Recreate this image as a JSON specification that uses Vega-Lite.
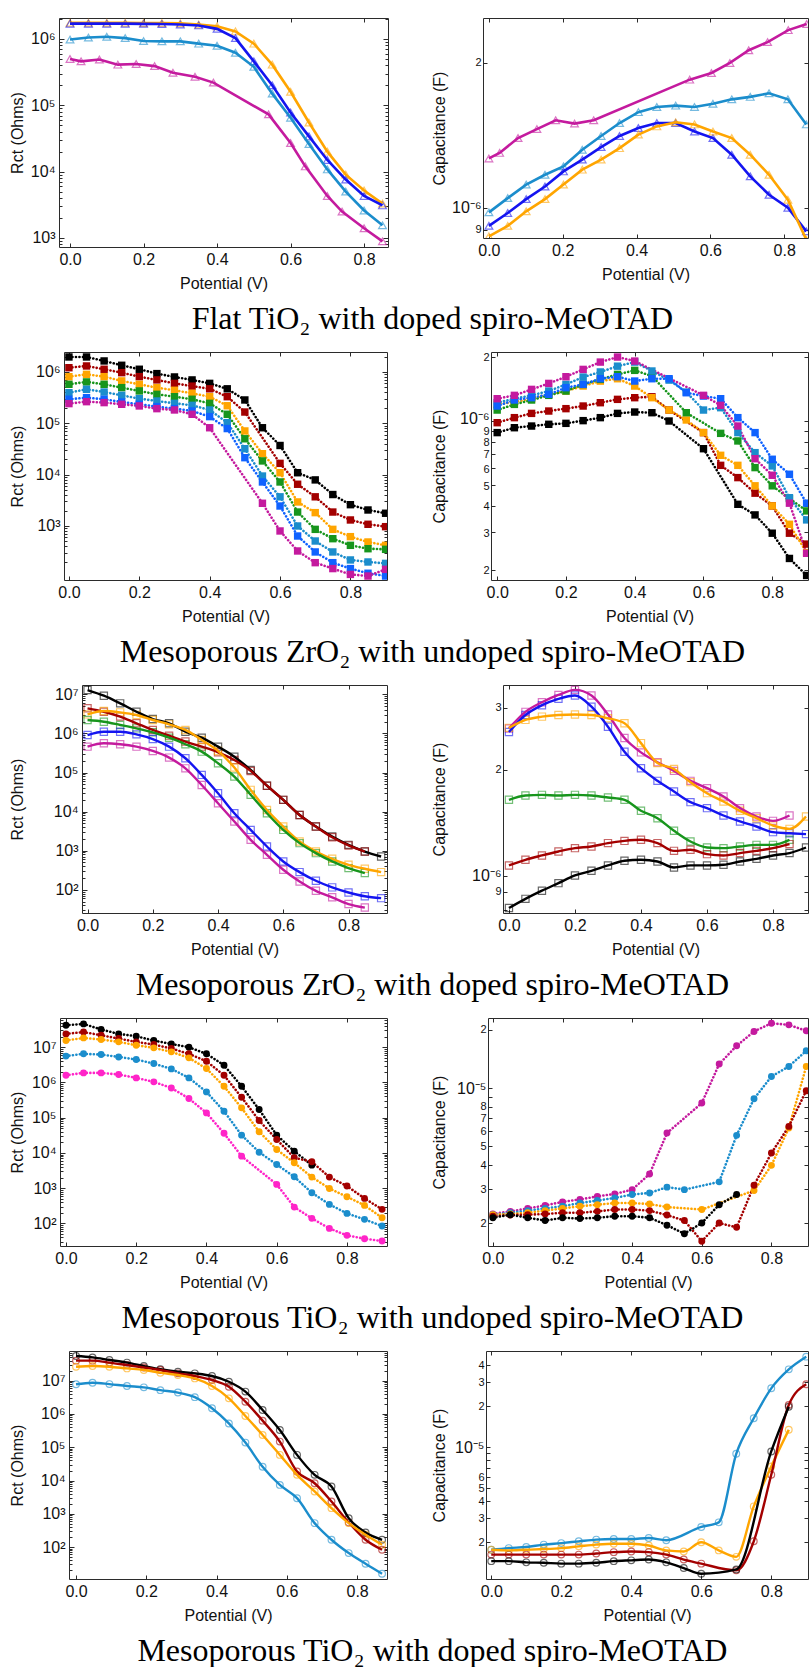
{
"$schema": "https://vega.github.io/schema/vega-lite/v6.json",
"padding": {"left": 1, "top": 15, "right": 0, "bottom": 0},
"config": {
  "view": {"stroke": "#2b2b2b", "strokeWidth": 1},
  "axis": {"labelFont": "Liberation Sans", "titleFont": "Liberation Sans", "labelFontSize": 16, "titleFontSize": 16, "titleFontWeight": "normal", "labelColor": "#111111", "titleColor": "#111111", "tickColor": "#2b2b2b", "tickWidth": 1, "grid": false, "domain": false, "labelOverlap": false, "labelFlush": false, "labelBound": false},
  "title": {"font": "Liberation Serif", "fontSize": 32, "fontWeight": "normal", "color": "#000000"}
},
"datasets": {
"pad": [{"k": 0}],
"r1L": [
{"v":0,"y":1.75e6,"s":"s3"},{"v":0.05,"y":1.75e6,"s":"s3"},{"v":0.1,"y":1.75e6,"s":"s3"},{"v":0.15,"y":1.75e6,"s":"s3"},{"v":0.2,"y":1.74e6,"s":"s3"},{"v":0.25,"y":1.74e6,"s":"s3"},{"v":0.3,"y":1.72e6,"s":"s3"},{"v":0.35,"y":1.65e6,"s":"s3"},{"v":0.4,"y":1.55e6,"s":"s3"},{"v":0.45,"y":1.3e6,"s":"s3"},{"v":0.5,"y":8.5e5,"s":"s3"},{"v":0.55,"y":4.1e5,"s":"s3"},{"v":0.6,"y":1.6e5,"s":"s3"},{"v":0.65,"y":5.5e4,"s":"s3"},{"v":0.7,"y":2.0e4,"s":"s3"},{"v":0.75,"y":9.0e3,"s":"s3"},{"v":0.8,"y":5.2e3,"s":"s3"},{"v":0.85,"y":3.3e3,"s":"s3"},
{"v":0,"y":1.7e6,"s":"s6"},{"v":0.05,"y":1.7e6,"s":"s6"},{"v":0.1,"y":1.7e6,"s":"s6"},{"v":0.15,"y":1.7e6,"s":"s6"},{"v":0.2,"y":1.69e6,"s":"s6"},{"v":0.25,"y":1.68e6,"s":"s6"},{"v":0.3,"y":1.65e6,"s":"s6"},{"v":0.35,"y":1.6e6,"s":"s6"},{"v":0.4,"y":1.42e6,"s":"s6"},{"v":0.45,"y":1.03e6,"s":"s6"},{"v":0.5,"y":4.6e5,"s":"s6"},{"v":0.55,"y":2.0e5,"s":"s6"},{"v":0.6,"y":7.8e4,"s":"s6"},{"v":0.65,"y":3.4e4,"s":"s6"},{"v":0.7,"y":1.5e4,"s":"s6"},{"v":0.75,"y":7.6e3,"s":"s6"},{"v":0.8,"y":4.3e3,"s":"s6"},{"v":0.85,"y":3.1e3,"s":"s6"},
{"v":0,"y":9.8e5,"s":"s5"},{"v":0.05,"y":1.05e6,"s":"s5"},{"v":0.1,"y":1.08e6,"s":"s5"},{"v":0.15,"y":1.03e6,"s":"s5"},{"v":0.2,"y":9.3e5,"s":"s5"},{"v":0.25,"y":9.2e5,"s":"s5"},{"v":0.3,"y":9.2e5,"s":"s5"},{"v":0.35,"y":8.5e5,"s":"s5"},{"v":0.4,"y":7.9e5,"s":"s5"},{"v":0.45,"y":6.2e5,"s":"s5"},{"v":0.5,"y":3.8e5,"s":"s5"},{"v":0.55,"y":1.5e5,"s":"s5"},{"v":0.6,"y":6.5e4,"s":"s5"},{"v":0.65,"y":2.6e4,"s":"s5"},{"v":0.7,"y":1.08e4,"s":"s5"},{"v":0.75,"y":5.0e3,"s":"s5"},{"v":0.8,"y":2.6e3,"s":"s5"},{"v":0.85,"y":1.55e3,"s":"s5"},
{"v":0,"y":5.0e5,"s":"s7"},{"v":0.03,"y":4.6e5,"s":"s7"},{"v":0.08,"y":4.9e5,"s":"s7"},{"v":0.13,"y":4.1e5,"s":"s7"},{"v":0.18,"y":4.2e5,"s":"s7"},{"v":0.23,"y":3.9e5,"s":"s7"},{"v":0.28,"y":3.1e5,"s":"s7"},{"v":0.34,"y":2.7e5,"s":"s7"},{"v":0.39,"y":2.2e5,"s":"s7"},{"v":0.54,"y":7.3e4,"s":"s7"},{"v":0.6,"y":2.7e4,"s":"s7"},{"v":0.64,"y":1.2e4,"s":"s7"},{"v":0.7,"y":4.3e3,"s":"s7"},{"v":0.74,"y":2.5e3,"s":"s7"},{"v":0.8,"y":1.4e3,"s":"s7"},{"v":0.85,"y":890,"s":"s7"}
],
"r1R": [
{"v":0,"y":9.78e-7,"s":"s5"},{"v":0.051,"y":1.047e-6,"s":"s5"},{"v":0.101,"y":1.117e-6,"s":"s5"},{"v":0.152,"y":1.171e-6,"s":"s5"},{"v":0.202,"y":1.219e-6,"s":"s5"},{"v":0.253,"y":1.32e-6,"s":"s5"},{"v":0.304,"y":1.41e-6,"s":"s5"},{"v":0.354,"y":1.5e-6,"s":"s5"},{"v":0.405,"y":1.58e-6,"s":"s5"},{"v":0.455,"y":1.62e-6,"s":"s5"},{"v":0.506,"y":1.63e-6,"s":"s5"},{"v":0.557,"y":1.62e-6,"s":"s5"},{"v":0.607,"y":1.645e-6,"s":"s5"},{"v":0.658,"y":1.68e-6,"s":"s5"},{"v":0.708,"y":1.7e-6,"s":"s5"},{"v":0.759,"y":1.73e-6,"s":"s5"},{"v":0.81,"y":1.68e-6,"s":"s5"},{"v":0.86,"y":1.49e-6,"s":"s5"},
{"v":0,"y":9.17e-7,"s":"s6"},{"v":0.051,"y":9.75e-7,"s":"s6"},{"v":0.101,"y":1.042e-6,"s":"s6"},{"v":0.152,"y":1.107e-6,"s":"s6"},{"v":0.202,"y":1.19e-6,"s":"s6"},{"v":0.253,"y":1.259e-6,"s":"s6"},{"v":0.304,"y":1.337e-6,"s":"s6"},{"v":0.354,"y":1.41e-6,"s":"s6"},{"v":0.405,"y":1.465e-6,"s":"s6"},{"v":0.455,"y":1.5e-6,"s":"s6"},{"v":0.506,"y":1.5e-6,"s":"s6"},{"v":0.557,"y":1.44e-6,"s":"s6"},{"v":0.607,"y":1.396e-6,"s":"s6"},{"v":0.658,"y":1.289e-6,"s":"s6"},{"v":0.708,"y":1.162e-6,"s":"s6"},{"v":0.759,"y":1.064e-6,"s":"s6"},{"v":0.81,"y":1.0e-6,"s":"s6"},{"v":0.86,"y":8.93e-7,"s":"s6"},
{"v":0,"y":8.72e-7,"s":"s3"},{"v":0.051,"y":9.17e-7,"s":"s3"},{"v":0.101,"y":9.83e-7,"s":"s3"},{"v":0.152,"y":1.042e-6,"s":"s3"},{"v":0.202,"y":1.117e-6,"s":"s3"},{"v":0.253,"y":1.2e-6,"s":"s3"},{"v":0.304,"y":1.259e-6,"s":"s3"},{"v":0.354,"y":1.33e-6,"s":"s3"},{"v":0.405,"y":1.419e-6,"s":"s3"},{"v":0.455,"y":1.476e-6,"s":"s3"},{"v":0.506,"y":1.505e-6,"s":"s3"},{"v":0.557,"y":1.49e-6,"s":"s3"},{"v":0.607,"y":1.44e-6,"s":"s3"},{"v":0.658,"y":1.396e-6,"s":"s3"},{"v":0.708,"y":1.289e-6,"s":"s3"},{"v":0.759,"y":1.171e-6,"s":"s3"},{"v":0.81,"y":1.039e-6,"s":"s3"},{"v":0.86,"y":8.58e-7,"s":"s3"},
{"v":0,"y":1.266e-6,"s":"s7"},{"v":0.029,"y":1.3e-6,"s":"s7"},{"v":0.079,"y":1.396e-6,"s":"s7"},{"v":0.13,"y":1.457e-6,"s":"s7"},{"v":0.181,"y":1.52e-6,"s":"s7"},{"v":0.232,"y":1.496e-6,"s":"s7"},{"v":0.284,"y":1.52e-6,"s":"s7"},{"v":0.544,"y":1.846e-6,"s":"s7"},{"v":0.603,"y":1.906e-6,"s":"s7"},{"v":0.653,"y":2.0e-6,"s":"s7"},{"v":0.704,"y":2.125e-6,"s":"s7"},{"v":0.755,"y":2.21e-6,"s":"s7"},{"v":0.811,"y":2.34e-6,"s":"s7"},{"v":0.861,"y":2.41e-6,"s":"s7"}
],
"r2L": [
{"v":0,"y":1.96e6,"s":"s1"},{"v":0.05,"y":1.96e6,"s":"s1"},{"v":0.1,"y":1.64e6,"s":"s1"},{"v":0.15,"y":1.35e6,"s":"s1"},{"v":0.2,"y":1.13e6,"s":"s1"},{"v":0.25,"y":9.3e5,"s":"s1"},{"v":0.3,"y":8.0e5,"s":"s1"},{"v":0.35,"y":7.0e5,"s":"s1"},{"v":0.4,"y":6.0e5,"s":"s1"},{"v":0.45,"y":4.7e5,"s":"s1"},{"v":0.5,"y":2.85e5,"s":"s1"},{"v":0.55,"y":8.2e4,"s":"s1"},{"v":0.6,"y":3.7e4,"s":"s1"},{"v":0.65,"y":1.09e4,"s":"s1"},{"v":0.7,"y":7.9e3,"s":"s1"},{"v":0.75,"y":4.1e3,"s":"s1"},{"v":0.8,"y":2.6e3,"s":"s1"},{"v":0.85,"y":2.05e3,"s":"s1"},{"v":0.9,"y":1.77e3,"s":"s1"},
{"v":0,"y":1.21e6,"s":"s2"},{"v":0.05,"y":1.31e6,"s":"s2"},{"v":0.1,"y":1.13e6,"s":"s2"},{"v":0.15,"y":9.7e5,"s":"s2"},{"v":0.2,"y":8.1e5,"s":"s2"},{"v":0.25,"y":7.0e5,"s":"s2"},{"v":0.3,"y":6.0e5,"s":"s2"},{"v":0.35,"y":5.3e5,"s":"s2"},{"v":0.4,"y":4.7e5,"s":"s2"},{"v":0.45,"y":3.3e5,"s":"s2"},{"v":0.5,"y":1.66e5,"s":"s2"},{"v":0.6,"y":1.66e4,"s":"s2"},{"v":0.65,"y":6.5e3,"s":"s2"},{"v":0.7,"y":3.7e3,"s":"s2"},{"v":0.75,"y":1.87e3,"s":"s2"},{"v":0.8,"y":1.31e3,"s":"s2"},{"v":0.85,"y":1.08e3,"s":"s2"},{"v":0.9,"y":970,"s":"s2"},
{"v":0,"y":8.1e5,"s":"s3"},{"v":0.05,"y":9.0e5,"s":"s3"},{"v":0.1,"y":8.1e5,"s":"s3"},{"v":0.15,"y":6.7e5,"s":"s3"},{"v":0.2,"y":5.75e5,"s":"s3"},{"v":0.25,"y":4.95e5,"s":"s3"},{"v":0.3,"y":4.4e5,"s":"s3"},{"v":0.35,"y":3.84e5,"s":"s3"},{"v":0.4,"y":3.3e5,"s":"s3"},{"v":0.45,"y":2.2e5,"s":"s3"},{"v":0.5,"y":7.1e4,"s":"s3"},{"v":0.55,"y":2.56e4,"s":"s3"},{"v":0.6,"y":1.09e4,"s":"s3"},{"v":0.65,"y":2.94e3,"s":"s3"},{"v":0.7,"y":1.82e3,"s":"s3"},{"v":0.75,"y":860,"s":"s3"},{"v":0.8,"y":620,"s":"s3"},{"v":0.85,"y":488,"s":"s3"},{"v":0.9,"y":420,"s":"s3"},
{"v":0,"y":5.75e5,"s":"s4"},{"v":0.05,"y":6.4e5,"s":"s4"},{"v":0.1,"y":5.75e5,"s":"s4"},{"v":0.15,"y":4.95e5,"s":"s4"},{"v":0.2,"y":4.27e5,"s":"s4"},{"v":0.25,"y":3.67e5,"s":"s4"},{"v":0.3,"y":3.3e5,"s":"s4"},{"v":0.35,"y":2.94e5,"s":"s4"},{"v":0.4,"y":2.45e5,"s":"s4"},{"v":0.45,"y":1.5e5,"s":"s4"},{"v":0.5,"y":5.0e4,"s":"s4"},{"v":0.55,"y":1.85e4,"s":"s4"},{"v":0.6,"y":7.2e3,"s":"s4"},{"v":0.65,"y":1.87e3,"s":"s4"},{"v":0.7,"y":860,"s":"s4"},{"v":0.75,"y":566,"s":"s4"},{"v":0.8,"y":420,"s":"s4"},{"v":0.85,"y":361,"s":"s4"},{"v":0.9,"y":351,"s":"s4"},
{"v":0,"y":3.95e5,"s":"s5"},{"v":0.05,"y":4.6e5,"s":"s5"},{"v":0.1,"y":4.07e5,"s":"s5"},{"v":0.15,"y":3.51e5,"s":"s5"},{"v":0.2,"y":3.02e5,"s":"s5"},{"v":0.25,"y":2.72e5,"s":"s5"},{"v":0.3,"y":2.45e5,"s":"s5"},{"v":0.35,"y":2.24e5,"s":"s5"},{"v":0.4,"y":1.82e5,"s":"s5"},{"v":0.45,"y":1.03e5,"s":"s5"},{"v":0.5,"y":3.2e4,"s":"s5"},{"v":0.55,"y":9.4e3,"s":"s5"},{"v":0.6,"y":3.7e3,"s":"s5"},{"v":0.65,"y":1.0e3,"s":"s5"},{"v":0.7,"y":510,"s":"s5"},{"v":0.75,"y":312,"s":"s5"},{"v":0.8,"y":218,"s":"s5"},{"v":0.85,"y":199,"s":"s5"},{"v":0.9,"y":187,"s":"s5"},
{"v":0,"y":2.94e5,"s":"s8"},{"v":0.05,"y":3.16e5,"s":"s8"},{"v":0.1,"y":2.94e5,"s":"s8"},{"v":0.15,"y":2.6e5,"s":"s8"},{"v":0.2,"y":2.35e5,"s":"s8"},{"v":0.25,"y":2.11e5,"s":"s8"},{"v":0.3,"y":1.93e5,"s":"s8"},{"v":0.35,"y":1.74e5,"s":"s8"},{"v":0.4,"y":1.35e5,"s":"s8"},{"v":0.45,"y":7.9e4,"s":"s8"},{"v":0.5,"y":2.14e4,"s":"s8"},{"v":0.55,"y":7.2e3,"s":"s8"},{"v":0.6,"y":2.45e3,"s":"s8"},{"v":0.65,"y":638,"s":"s8"},{"v":0.7,"y":312,"s":"s8"},{"v":0.75,"y":193,"s":"s8"},{"v":0.8,"y":148,"s":"s8"},{"v":0.85,"y":120,"s":"s8"},{"v":0.9,"y":106,"s":"s8"},
{"v":0,"y":2.42e5,"s":"s7"},{"v":0.05,"y":2.64e5,"s":"s7"},{"v":0.1,"y":2.53e5,"s":"s7"},{"v":0.15,"y":2.35e5,"s":"s7"},{"v":0.2,"y":2.18e5,"s":"s7"},{"v":0.25,"y":1.93e5,"s":"s7"},{"v":0.3,"y":1.82e5,"s":"s7"},{"v":0.35,"y":1.5e5,"s":"s7"},{"v":0.4,"y":8.2e4,"s":"s7"},{"v":0.55,"y":2.77e3,"s":"s7"},{"v":0.6,"y":800,"s":"s7"},{"v":0.65,"y":326,"s":"s7"},{"v":0.7,"y":193,"s":"s7"},{"v":0.75,"y":148,"s":"s7"},{"v":0.8,"y":114,"s":"s7"},{"v":0.85,"y":106,"s":"s7"},{"v":0.9,"y":143,"s":"s7"}
],
"r2R": [
{"v":0,"y":8.82e-7,"s":"s1"},{"v":0.05,"y":9.3e-7,"s":"s1"},{"v":0.1,"y":9.47e-7,"s":"s1"},{"v":0.15,"y":9.65e-7,"s":"s1"},{"v":0.2,"y":9.75e-7,"s":"s1"},{"v":0.25,"y":1.004e-6,"s":"s1"},{"v":0.3,"y":1.037e-6,"s":"s1"},{"v":0.35,"y":1.086e-6,"s":"s1"},{"v":0.4,"y":1.102e-6,"s":"s1"},{"v":0.45,"y":1.094e-6,"s":"s1"},{"v":0.5,"y":1.0e-6,"s":"s1"},{"v":0.6,"y":7.41e-7,"s":"s1"},{"v":0.7,"y":4.06e-7,"s":"s1"},{"v":0.75,"y":3.62e-7,"s":"s1"},{"v":0.8,"y":2.97e-7,"s":"s1"},{"v":0.85,"y":2.26e-7,"s":"s1"},{"v":0.9,"y":1.88e-7,"s":"s1"},
{"v":0,"y":9.82e-7,"s":"s2"},{"v":0.05,"y":1.037e-6,"s":"s2"},{"v":0.1,"y":1.086e-6,"s":"s2"},{"v":0.15,"y":1.114e-6,"s":"s2"},{"v":0.2,"y":1.143e-6,"s":"s2"},{"v":0.25,"y":1.176e-6,"s":"s2"},{"v":0.3,"y":1.219e-6,"s":"s2"},{"v":0.35,"y":1.264e-6,"s":"s2"},{"v":0.4,"y":1.287e-6,"s":"s2"},{"v":0.45,"y":1.3e-6,"s":"s2"},{"v":0.5,"y":1.126e-6,"s":"s2"},{"v":0.6,"y":8.82e-7,"s":"s2"},{"v":0.65,"y":6.19e-7,"s":"s2"},{"v":0.7,"y":5.42e-7,"s":"s2"},{"v":0.75,"y":4.58e-7,"s":"s2"},{"v":0.8,"y":3.99e-7,"s":"s2"},{"v":0.85,"y":2.97e-7,"s":"s2"},{"v":0.9,"y":2.64e-7,"s":"s2"},
{"v":0,"y":1.197e-6,"s":"s3"},{"v":0.05,"y":1.228e-6,"s":"s3"},{"v":0.1,"y":1.273e-6,"s":"s3"},{"v":0.15,"y":1.334e-6,"s":"s3"},{"v":0.2,"y":1.383e-6,"s":"s3"},{"v":0.25,"y":1.46e-6,"s":"s3"},{"v":0.3,"y":1.54e-6,"s":"s3"},{"v":0.35,"y":1.58e-6,"s":"s3"},{"v":0.4,"y":1.46e-6,"s":"s3"},{"v":0.45,"y":1.287e-6,"s":"s3"},{"v":0.5,"y":1.126e-6,"s":"s3"},{"v":0.55,"y":1.011e-6,"s":"s3"},{"v":0.6,"y":8.82e-7,"s":"s3"},{"v":0.65,"y":6.9e-7,"s":"s3"},{"v":0.7,"y":6.19e-7,"s":"s3"},{"v":0.75,"y":4.96e-7,"s":"s3"},{"v":0.8,"y":3.99e-7,"s":"s3"},{"v":0.85,"y":3.27e-7,"s":"s3"},{"v":0.9,"y":2.41e-7,"s":"s3"},
{"v":0,"y":1.126e-6,"s":"s4"},{"v":0.05,"y":1.197e-6,"s":"s4"},{"v":0.1,"y":1.255e-6,"s":"s4"},{"v":0.15,"y":1.32e-6,"s":"s4"},{"v":0.2,"y":1.383e-6,"s":"s4"},{"v":0.25,"y":1.486e-6,"s":"s4"},{"v":0.3,"y":1.569e-6,"s":"s4"},{"v":0.35,"y":1.656e-6,"s":"s4"},{"v":0.4,"y":1.73e-6,"s":"s4"},{"v":0.45,"y":1.627e-6,"s":"s4"},{"v":0.55,"y":1.094e-6,"s":"s4"},{"v":0.65,"y":8.75e-7,"s":"s4"},{"v":0.7,"y":8.06e-7,"s":"s4"},{"v":0.75,"y":6.04e-7,"s":"s4"},{"v":0.8,"y":4.96e-7,"s":"s4"},{"v":0.85,"y":4.32e-7,"s":"s4"},{"v":0.9,"y":3.78e-7,"s":"s4"},
{"v":0,"y":1.219e-6,"s":"s5"},{"v":0.05,"y":1.273e-6,"s":"s5"},{"v":0.1,"y":1.32e-6,"s":"s5"},{"v":0.15,"y":1.383e-6,"s":"s5"},{"v":0.2,"y":1.486e-6,"s":"s5"},{"v":0.25,"y":1.609e-6,"s":"s5"},{"v":0.3,"y":1.7e-6,"s":"s5"},{"v":0.35,"y":1.81e-6,"s":"s5"},{"v":0.4,"y":1.892e-6,"s":"s5"},{"v":0.45,"y":1.718e-6,"s":"s5"},{"v":0.5,"y":1.557e-6,"s":"s5"},{"v":0.55,"y":1.368e-6,"s":"s5"},{"v":0.6,"y":1.126e-6,"s":"s5"},{"v":0.65,"y":1.155e-6,"s":"s5"},{"v":0.7,"y":8.82e-7,"s":"s5"},{"v":0.75,"y":7.1e-7,"s":"s5"},{"v":0.8,"y":6.15e-7,"s":"s5"},{"v":0.85,"y":4.36e-7,"s":"s5"},{"v":0.9,"y":3.43e-7,"s":"s5"},
{"v":0,"y":1.176e-6,"s":"s8"},{"v":0.05,"y":1.255e-6,"s":"s8"},{"v":0.1,"y":1.287e-6,"s":"s8"},{"v":0.15,"y":1.334e-6,"s":"s8"},{"v":0.2,"y":1.434e-6,"s":"s8"},{"v":0.25,"y":1.486e-6,"s":"s8"},{"v":0.3,"y":1.58e-6,"s":"s8"},{"v":0.35,"y":1.615e-6,"s":"s8"},{"v":0.4,"y":1.541e-6,"s":"s8"},{"v":0.45,"y":1.58e-6,"s":"s8"},{"v":0.5,"y":1.58e-6,"s":"s8"},{"v":0.55,"y":1.358e-6,"s":"s8"},{"v":0.6,"y":1.31e-6,"s":"s8"},{"v":0.65,"y":1.273e-6,"s":"s8"},{"v":0.7,"y":1.037e-6,"s":"s8"},{"v":0.75,"y":8.82e-7,"s":"s8"},{"v":0.8,"y":6.61e-7,"s":"s8"},{"v":0.85,"y":5.62e-7,"s":"s8"},{"v":0.9,"y":4.11e-7,"s":"s8"},
{"v":0,"y":1.273e-6,"s":"s7"},{"v":0.05,"y":1.32e-6,"s":"s7"},{"v":0.1,"y":1.408e-6,"s":"s7"},{"v":0.15,"y":1.502e-6,"s":"s7"},{"v":0.2,"y":1.615e-6,"s":"s7"},{"v":0.25,"y":1.748e-6,"s":"s7"},{"v":0.3,"y":1.892e-6,"s":"s7"},{"v":0.35,"y":1.998e-6,"s":"s7"},{"v":0.4,"y":1.913e-6,"s":"s7"},{"v":0.6,"y":1.32e-6,"s":"s7"},{"v":0.65,"y":1.185e-6,"s":"s7"},{"v":0.7,"y":9.47e-7,"s":"s7"},{"v":0.75,"y":6.65e-7,"s":"s7"},{"v":0.8,"y":5.56e-7,"s":"s7"},{"v":0.85,"y":4.11e-7,"s":"s7"},{"v":0.9,"y":2.39e-7,"s":"s7"}
],
"r3L": [
{"v":0,"y":1.29e7,"s":"s1"},{"v":0.05,"y":9.25e6,"s":"s1"},{"v":0.1,"y":5.9e6,"s":"s1"},{"v":0.15,"y":3.6e6,"s":"s1"},{"v":0.2,"y":2.34e6,"s":"s1"},{"v":0.25,"y":1.82e6,"s":"s1"},{"v":0.3,"y":1.11e6,"s":"s1"},{"v":0.35,"y":7.8e5,"s":"s1"},{"v":0.4,"y":4.6e5,"s":"s1"},{"v":0.45,"y":2.55e5,"s":"s1"},{"v":0.5,"y":1.16e5,"s":"s1"},{"v":0.55,"y":4.6e4,"s":"s1"},{"v":0.6,"y":2.0e4,"s":"s1"},{"v":0.65,"y":8.2e3,"s":"s1"},{"v":0.7,"y":4.15e3,"s":"s1"},{"v":0.75,"y":2.3e3,"s":"s1"},{"v":0.8,"y":1.41e3,"s":"s1"},{"v":0.85,"y":950,"s":"s1"},{"v":0.9,"y":710,"s":"s1"},
{"v":0,"y":4.4e6,"s":"s2"},{"v":0.05,"y":3.6e6,"s":"s2"},{"v":0.1,"y":2.7e6,"s":"s2"},{"v":0.15,"y":1.82e6,"s":"s2"},{"v":0.2,"y":1.23e6,"s":"s2"},{"v":0.25,"y":8.8e5,"s":"s2"},{"v":0.3,"y":6.2e5,"s":"s2"},{"v":0.35,"y":4.6e5,"s":"s2"},{"v":0.4,"y":3.3e5,"s":"s2"},{"v":0.45,"y":2.1e5,"s":"s2"},{"v":0.5,"y":1.1e5,"s":"s2"},{"v":0.55,"y":4.6e4,"s":"s2"},{"v":0.6,"y":2.0e4,"s":"s2"},{"v":0.65,"y":8.2e3,"s":"s2"},{"v":0.7,"y":4.15e3,"s":"s2"},{"v":0.75,"y":2.2e3,"s":"s2"},{"v":0.8,"y":1.36e3,"s":"s2"},{"v":0.85,"y":950,"s":"s2"},
{"v":0,"y":3.08e6,"s":"s3"},{"v":0.05,"y":3.75e6,"s":"s3"},{"v":0.1,"y":3.47e6,"s":"s3"},{"v":0.15,"y":2.97e6,"s":"s3"},{"v":0.2,"y":2.21e6,"s":"s3"},{"v":0.25,"y":1.71e6,"s":"s3"},{"v":0.3,"y":1.23e6,"s":"s3"},{"v":0.35,"y":6.8e5,"s":"s3"},{"v":0.4,"y":3.57e5,"s":"s3"},{"v":0.45,"y":1.34e5,"s":"s3"},{"v":0.5,"y":3.6e4,"s":"s3"},{"v":0.55,"y":1.1e4,"s":"s3"},{"v":0.6,"y":4.15e3,"s":"s3"},{"v":0.65,"y":1.72e3,"s":"s3"},{"v":0.7,"y":955,"s":"s3"},{"v":0.75,"y":620,"s":"s3"},{"v":0.8,"y":435,"s":"s3"},{"v":0.85,"y":344,"s":"s3"},{"v":0.9,"y":283,"s":"s3"},
{"v":0,"y":2.21e6,"s":"s4"},{"v":0.05,"y":2.0e6,"s":"s4"},{"v":0.1,"y":1.65e6,"s":"s4"},{"v":0.15,"y":1.35e6,"s":"s4"},{"v":0.2,"y":1.07e6,"s":"s4"},{"v":0.25,"y":7.8e5,"s":"s4"},{"v":0.3,"y":5.3e5,"s":"s4"},{"v":0.35,"y":3.43e5,"s":"s4"},{"v":0.4,"y":1.73e5,"s":"s4"},{"v":0.45,"y":7.9e4,"s":"s4"},{"v":0.5,"y":2.7e4,"s":"s4"},{"v":0.55,"y":9.1e3,"s":"s4"},{"v":0.6,"y":3.4e3,"s":"s4"},{"v":0.65,"y":1.56e3,"s":"s4"},{"v":0.7,"y":865,"s":"s4"},{"v":0.75,"y":530,"s":"s4"},{"v":0.8,"y":358,"s":"s4"},{"v":0.85,"y":267,"s":"s4"},
{"v":0,"y":9.1e5,"s":"s6"},{"v":0.05,"y":1.11e6,"s":"s6"},{"v":0.1,"y":1.11e6,"s":"s6"},{"v":0.15,"y":9.5e5,"s":"s6"},{"v":0.2,"y":7.2e5,"s":"s6"},{"v":0.25,"y":4.6e5,"s":"s6"},{"v":0.3,"y":2.32e5,"s":"s6"},{"v":0.35,"y":8.7e4,"s":"s6"},{"v":0.4,"y":2.95e4,"s":"s6"},{"v":0.45,"y":9.1e3,"s":"s6"},{"v":0.5,"y":3.4e3,"s":"s6"},{"v":0.55,"y":1.28e3,"s":"s6"},{"v":0.6,"y":530,"s":"s6"},{"v":0.65,"y":283,"s":"s6"},{"v":0.7,"y":170,"s":"s6"},{"v":0.75,"y":115,"s":"s6"},{"v":0.8,"y":85,"s":"s6"},{"v":0.85,"y":68,"s":"s6"},{"v":0.9,"y":61,"s":"s6"},
{"v":0,"y":4.6e5,"s":"s7"},{"v":0.05,"y":5.6e5,"s":"s7"},{"v":0.1,"y":5.3e5,"s":"s7"},{"v":0.15,"y":4.6e5,"s":"s7"},{"v":0.2,"y":3.57e5,"s":"s7"},{"v":0.25,"y":2.41e5,"s":"s7"},{"v":0.3,"y":1.28e5,"s":"s7"},{"v":0.35,"y":4.8e4,"s":"s7"},{"v":0.4,"y":1.64e4,"s":"s7"},{"v":0.45,"y":5.6e3,"s":"s7"},{"v":0.5,"y":1.9e3,"s":"s7"},{"v":0.55,"y":785,"s":"s7"},{"v":0.6,"y":325,"s":"s7"},{"v":0.65,"y":163,"s":"s7"},{"v":0.7,"y":94,"s":"s7"},{"v":0.75,"y":64,"s":"s7"},{"v":0.8,"y":43,"s":"s7"},{"v":0.85,"y":35,"s":"s7"}
],
"r3R": [
{"v":0,"y":2.62e-6,"s":"s7"},{"v":0.05,"y":2.92e-6,"s":"s7"},{"v":0.1,"y":3.11e-6,"s":"s7"},{"v":0.15,"y":3.26e-6,"s":"s7"},{"v":0.2,"y":3.37e-6,"s":"s7"},{"v":0.25,"y":3.25e-6,"s":"s7"},{"v":0.3,"y":2.87e-6,"s":"s7"},{"v":0.35,"y":2.46e-6,"s":"s7"},{"v":0.4,"y":2.24e-6,"s":"s7"},{"v":0.45,"y":2.1e-6,"s":"s7"},{"v":0.5,"y":1.985e-6,"s":"s7"},{"v":0.55,"y":1.86e-6,"s":"s7"},{"v":0.6,"y":1.773e-6,"s":"s7"},{"v":0.65,"y":1.679e-6,"s":"s7"},{"v":0.7,"y":1.556e-6,"s":"s7"},{"v":0.75,"y":1.473e-6,"s":"s7"},{"v":0.8,"y":1.432e-6,"s":"s7"},{"v":0.85,"y":1.483e-6,"s":"s7"},
{"v":0,"y":2.56e-6,"s":"s6"},{"v":0.05,"y":2.86e-6,"s":"s6"},{"v":0.1,"y":3.05e-6,"s":"s6"},{"v":0.15,"y":3.18e-6,"s":"s6"},{"v":0.2,"y":3.25e-6,"s":"s6"},{"v":0.25,"y":3.02e-6,"s":"s6"},{"v":0.3,"y":2.65e-6,"s":"s6"},{"v":0.35,"y":2.25e-6,"s":"s6"},{"v":0.4,"y":2.02e-6,"s":"s6"},{"v":0.45,"y":1.86e-6,"s":"s6"},{"v":0.5,"y":1.734e-6,"s":"s6"},{"v":0.55,"y":1.618e-6,"s":"s6"},{"v":0.6,"y":1.556e-6,"s":"s6"},{"v":0.65,"y":1.483e-6,"s":"s6"},{"v":0.7,"y":1.426e-6,"s":"s6"},{"v":0.75,"y":1.38e-6,"s":"s6"},{"v":0.8,"y":1.33e-6,"s":"s6"},{"v":0.85,"y":1.321e-6,"s":"s6"},{"v":0.9,"y":1.313e-6,"s":"s6"},
{"v":0,"y":2.63e-6,"s":"s3"},{"v":0.05,"y":2.77e-6,"s":"s3"},{"v":0.1,"y":2.83e-6,"s":"s3"},{"v":0.15,"y":2.86e-6,"s":"s3"},{"v":0.2,"y":2.87e-6,"s":"s3"},{"v":0.25,"y":2.86e-6,"s":"s3"},{"v":0.3,"y":2.8e-6,"s":"s3"},{"v":0.35,"y":2.71e-6,"s":"s3"},{"v":0.4,"y":2.38e-6,"s":"s3"},{"v":0.45,"y":2.09e-6,"s":"s3"},{"v":0.5,"y":2.01e-6,"s":"s3"},{"v":0.55,"y":1.844e-6,"s":"s3"},{"v":0.6,"y":1.716e-6,"s":"s3"},{"v":0.65,"y":1.625e-6,"s":"s3"},{"v":0.7,"y":1.529e-6,"s":"s3"},{"v":0.75,"y":1.457e-6,"s":"s3"},{"v":0.8,"y":1.389e-6,"s":"s3"},{"v":0.85,"y":1.359e-6,"s":"s3"},{"v":0.9,"y":1.473e-6,"s":"s3"},
{"v":0,"y":1.643e-6,"s":"s4"},{"v":0.05,"y":1.69e-6,"s":"s4"},{"v":0.1,"y":1.697e-6,"s":"s4"},{"v":0.15,"y":1.69e-6,"s":"s4"},{"v":0.2,"y":1.697e-6,"s":"s4"},{"v":0.25,"y":1.69e-6,"s":"s4"},{"v":0.3,"y":1.668e-6,"s":"s4"},{"v":0.35,"y":1.643e-6,"s":"s4"},{"v":0.4,"y":1.529e-6,"s":"s4"},{"v":0.45,"y":1.457e-6,"s":"s4"},{"v":0.5,"y":1.342e-6,"s":"s4"},{"v":0.55,"y":1.251e-6,"s":"s4"},{"v":0.6,"y":1.203e-6,"s":"s4"},{"v":0.65,"y":1.198e-6,"s":"s4"},{"v":0.7,"y":1.211e-6,"s":"s4"},{"v":0.75,"y":1.224e-6,"s":"s4"},{"v":0.8,"y":1.224e-6,"s":"s4"},{"v":0.85,"y":1.265e-6,"s":"s4"},
{"v":0,"y":1.07e-6,"s":"s2"},{"v":0.05,"y":1.11e-6,"s":"s2"},{"v":0.1,"y":1.142e-6,"s":"s2"},{"v":0.15,"y":1.172e-6,"s":"s2"},{"v":0.2,"y":1.198e-6,"s":"s2"},{"v":0.25,"y":1.211e-6,"s":"s2"},{"v":0.3,"y":1.238e-6,"s":"s2"},{"v":0.35,"y":1.256e-6,"s":"s2"},{"v":0.4,"y":1.265e-6,"s":"s2"},{"v":0.45,"y":1.238e-6,"s":"s2"},{"v":0.5,"y":1.177e-6,"s":"s2"},{"v":0.55,"y":1.185e-6,"s":"s2"},{"v":0.6,"y":1.152e-6,"s":"s2"},{"v":0.65,"y":1.142e-6,"s":"s2"},{"v":0.7,"y":1.16e-6,"s":"s2"},{"v":0.75,"y":1.177e-6,"s":"s2"},{"v":0.8,"y":1.198e-6,"s":"s2"},{"v":0.85,"y":1.23e-6,"s":"s2"},
{"v":0,"y":8.1e-7,"s":"s1"},{"v":0.05,"y":8.6e-7,"s":"s1"},{"v":0.1,"y":9.07e-7,"s":"s1"},{"v":0.15,"y":9.53e-7,"s":"s1"},{"v":0.2,"y":1.002e-6,"s":"s1"},{"v":0.25,"y":1.033e-6,"s":"s1"},{"v":0.3,"y":1.07e-6,"s":"s1"},{"v":0.35,"y":1.103e-6,"s":"s1"},{"v":0.4,"y":1.11e-6,"s":"s1"},{"v":0.45,"y":1.098e-6,"s":"s1"},{"v":0.5,"y":1.056e-6,"s":"s1"},{"v":0.55,"y":1.07e-6,"s":"s1"},{"v":0.6,"y":1.07e-6,"s":"s1"},{"v":0.65,"y":1.075e-6,"s":"s1"},{"v":0.7,"y":1.098e-6,"s":"s1"},{"v":0.75,"y":1.117e-6,"s":"s1"},{"v":0.8,"y":1.142e-6,"s":"s1"},{"v":0.85,"y":1.16e-6,"s":"s1"},{"v":0.9,"y":1.203e-6,"s":"s1"}
],
"r4L": [
{"v":0,"y":4.2e7,"s":"s1"},{"v":0.05,"y":4.6e7,"s":"s1"},{"v":0.1,"y":3.2e7,"s":"s1"},{"v":0.15,"y":2.39e7,"s":"s1"},{"v":0.2,"y":2.05e7,"s":"s1"},{"v":0.25,"y":1.55e7,"s":"s1"},{"v":0.3,"y":1.24e7,"s":"s1"},{"v":0.35,"y":1.0e7,"s":"s1"},{"v":0.4,"y":6.5e6,"s":"s1"},{"v":0.45,"y":3.09e6,"s":"s1"},{"v":0.5,"y":7.8e5,"s":"s1"},{"v":0.55,"y":1.71e5,"s":"s1"},{"v":0.6,"y":3.2e4,"s":"s1"},{"v":0.65,"y":1.12e4,"s":"s1"},{"v":0.7,"y":4.5e3,"s":"s1"},
{"v":0,"y":2.39e7,"s":"s2"},{"v":0.05,"y":2.7e7,"s":"s2"},{"v":0.1,"y":2.19e7,"s":"s2"},{"v":0.15,"y":1.76e7,"s":"s2"},{"v":0.2,"y":1.42e7,"s":"s2"},{"v":0.25,"y":1.19e7,"s":"s2"},{"v":0.3,"y":9.2e6,"s":"s2"},{"v":0.35,"y":6.5e6,"s":"s2"},{"v":0.4,"y":4.0e6,"s":"s2"},{"v":0.45,"y":1.6e6,"s":"s2"},{"v":0.5,"y":3.8e5,"s":"s2"},{"v":0.55,"y":8.3e4,"s":"s2"},{"v":0.6,"y":2.4e4,"s":"s2"},{"v":0.65,"y":7.3e3,"s":"s2"},{"v":0.7,"y":5.6e3,"s":"s2"},{"v":0.75,"y":2.06e3,"s":"s2"},{"v":0.8,"y":1.15e3,"s":"s2"},{"v":0.85,"y":512,"s":"s2"},{"v":0.9,"y":250,"s":"s2"},
{"v":0,"y":1.55e7,"s":"s3"},{"v":0.05,"y":1.84e7,"s":"s3"},{"v":0.1,"y":1.65e7,"s":"s3"},{"v":0.15,"y":1.42e7,"s":"s3"},{"v":0.2,"y":1.14e7,"s":"s3"},{"v":0.25,"y":9.6e6,"s":"s3"},{"v":0.3,"y":7.4e6,"s":"s3"},{"v":0.35,"y":5.0e6,"s":"s3"},{"v":0.4,"y":2.48e6,"s":"s3"},{"v":0.45,"y":7.8e5,"s":"s3"},{"v":0.5,"y":1.9e5,"s":"s3"},{"v":0.55,"y":4.0e4,"s":"s3"},{"v":0.6,"y":1.25e4,"s":"s3"},{"v":0.65,"y":5.25e3,"s":"s3"},{"v":0.7,"y":2.06e3,"s":"s3"},{"v":0.75,"y":982,"s":"s3"},{"v":0.8,"y":570,"s":"s3"},{"v":0.85,"y":324,"s":"s3"},{"v":0.9,"y":145,"s":"s3"},
{"v":0,"y":5.6e6,"s":"s5"},{"v":0.05,"y":6.5e6,"s":"s5"},{"v":0.1,"y":6.2e6,"s":"s5"},{"v":0.15,"y":5.3e6,"s":"s5"},{"v":0.2,"y":4.47e6,"s":"s5"},{"v":0.25,"y":3.44e6,"s":"s5"},{"v":0.3,"y":2.43e6,"s":"s5"},{"v":0.35,"y":1.35e6,"s":"s5"},{"v":0.4,"y":5.4e5,"s":"s5"},{"v":0.45,"y":1.53e5,"s":"s5"},{"v":0.5,"y":3.2e4,"s":"s5"},{"v":0.55,"y":1.05e4,"s":"s5"},{"v":0.6,"y":4.7e3,"s":"s5"},{"v":0.65,"y":2.1e3,"s":"s5"},{"v":0.7,"y":741,"s":"s5"},{"v":0.75,"y":346,"s":"s5"},{"v":0.8,"y":192,"s":"s5"},{"v":0.85,"y":130,"s":"s5"},{"v":0.9,"y":84,"s":"s5"},
{"v":0,"y":1.6e6,"s":"s9"},{"v":0.05,"y":1.87e6,"s":"s9"},{"v":0.1,"y":1.87e6,"s":"s9"},{"v":0.15,"y":1.68e6,"s":"s9"},{"v":0.2,"y":1.35e6,"s":"s9"},{"v":0.25,"y":1.04e6,"s":"s9"},{"v":0.3,"y":7.0e5,"s":"s9"},{"v":0.35,"y":3.5e5,"s":"s9"},{"v":0.4,"y":1.37e5,"s":"s9"},{"v":0.45,"y":3.6e4,"s":"s9"},{"v":0.5,"y":8.1e3,"s":"s9"},{"v":0.6,"y":1.28e3,"s":"s9"},{"v":0.65,"y":290,"s":"s9"},{"v":0.7,"y":139,"s":"s9"},{"v":0.75,"y":72,"s":"s9"},{"v":0.8,"y":45.7,"s":"s9"},{"v":0.85,"y":36.7,"s":"s9"},{"v":0.9,"y":31.5,"s":"s9"}
],
"r4R": [
{"v":0,"y":2.24e-6,"s":"s7"},{"v":0.05,"y":2.31e-6,"s":"s7"},{"v":0.1,"y":2.39e-6,"s":"s7"},{"v":0.15,"y":2.48e-6,"s":"s7"},{"v":0.2,"y":2.585e-6,"s":"s7"},{"v":0.25,"y":2.66e-6,"s":"s7"},{"v":0.3,"y":2.76e-6,"s":"s7"},{"v":0.35,"y":2.84e-6,"s":"s7"},{"v":0.4,"y":2.99e-6,"s":"s7"},{"v":0.45,"y":3.6e-6,"s":"s7"},{"v":0.5,"y":5.86e-6,"s":"s7"},{"v":0.6,"y":8.37e-6,"s":"s7"},{"v":0.65,"y":1.33e-5,"s":"s7"},{"v":0.7,"y":1.653e-5,"s":"s7"},{"v":0.75,"y":1.96e-5,"s":"s7"},{"v":0.8,"y":2.16e-5,"s":"s7"},{"v":0.85,"y":2.12e-5,"s":"s7"},{"v":0.9,"y":1.975e-5,"s":"s7"},
{"v":0,"y":2.22e-6,"s":"s5"},{"v":0.05,"y":2.27e-6,"s":"s5"},{"v":0.1,"y":2.33e-6,"s":"s5"},{"v":0.15,"y":2.39e-6,"s":"s5"},{"v":0.2,"y":2.455e-6,"s":"s5"},{"v":0.25,"y":2.55e-6,"s":"s5"},{"v":0.3,"y":2.625e-6,"s":"s5"},{"v":0.35,"y":2.71e-6,"s":"s5"},{"v":0.4,"y":2.82e-6,"s":"s5"},{"v":0.45,"y":2.875e-6,"s":"s5"},{"v":0.5,"y":3.08e-6,"s":"s5"},{"v":0.55,"y":2.99e-6,"s":"s5"},{"v":0.65,"y":3.28e-6,"s":"s5"},{"v":0.7,"y":5.7e-6,"s":"s5"},{"v":0.75,"y":8.81e-6,"s":"s5"},{"v":0.8,"y":1.148e-5,"s":"s5"},{"v":0.85,"y":1.293e-5,"s":"s5"},{"v":0.9,"y":1.557e-5,"s":"s5"},
{"v":0,"y":2.22e-6,"s":"s3"},{"v":0.05,"y":2.24e-6,"s":"s3"},{"v":0.1,"y":2.27e-6,"s":"s3"},{"v":0.15,"y":2.33e-6,"s":"s3"},{"v":0.2,"y":2.39e-6,"s":"s3"},{"v":0.25,"y":2.455e-6,"s":"s3"},{"v":0.3,"y":2.5e-6,"s":"s3"},{"v":0.35,"y":2.55e-6,"s":"s3"},{"v":0.4,"y":2.55e-6,"s":"s3"},{"v":0.45,"y":2.52e-6,"s":"s3"},{"v":0.5,"y":2.43e-6,"s":"s3"},{"v":0.6,"y":2.36e-6,"s":"s3"},{"v":0.75,"y":2.96e-6,"s":"s3"},{"v":0.8,"y":3.99e-6,"s":"s3"},{"v":0.85,"y":6.22e-6,"s":"s3"},{"v":0.9,"y":1.293e-5,"s":"s3"},
{"v":0,"y":2.18e-6,"s":"s2"},{"v":0.05,"y":2.21e-6,"s":"s2"},{"v":0.1,"y":2.22e-6,"s":"s2"},{"v":0.15,"y":2.24e-6,"s":"s2"},{"v":0.2,"y":2.27e-6,"s":"s2"},{"v":0.25,"y":2.27e-6,"s":"s2"},{"v":0.3,"y":2.31e-6,"s":"s2"},{"v":0.35,"y":2.36e-6,"s":"s2"},{"v":0.4,"y":2.36e-6,"s":"s2"},{"v":0.45,"y":2.33e-6,"s":"s2"},{"v":0.5,"y":2.21e-6,"s":"s2"},{"v":0.55,"y":2.07e-6,"s":"s2"},{"v":0.6,"y":1.62e-6,"s":"s2"},{"v":0.65,"y":2.01e-6,"s":"s2"},{"v":0.7,"y":1.91e-6,"s":"s2"},{"v":0.75,"y":3.15e-6,"s":"s2"},{"v":0.8,"y":4.62e-6,"s":"s2"},{"v":0.85,"y":6.34e-6,"s":"s2"},{"v":0.9,"y":9.69e-6,"s":"s2"},
{"v":0,"y":2.14e-6,"s":"s1"},{"v":0.05,"y":2.22e-6,"s":"s1"},{"v":0.1,"y":2.14e-6,"s":"s1"},{"v":0.15,"y":2.07e-6,"s":"s1"},{"v":0.2,"y":2.14e-6,"s":"s1"},{"v":0.25,"y":2.12e-6,"s":"s1"},{"v":0.3,"y":2.14e-6,"s":"s1"},{"v":0.35,"y":2.18e-6,"s":"s1"},{"v":0.4,"y":2.18e-6,"s":"s1"},{"v":0.45,"y":2.14e-6,"s":"s1"},{"v":0.5,"y":1.96e-6,"s":"s1"},{"v":0.55,"y":1.77e-6,"s":"s1"},{"v":0.6,"y":2.01e-6,"s":"s1"},{"v":0.65,"y":2.5e-6,"s":"s1"},{"v":0.7,"y":2.82e-6,"s":"s1"}
],
"r5L": [
{"v":0,"y":5.5e7,"s":"s1"},{"v":0.047,"y":5.0e7,"s":"s1"},{"v":0.095,"y":4.2e7,"s":"s1"},{"v":0.145,"y":3.5e7,"s":"s1"},{"v":0.193,"y":2.75e7,"s":"s1"},{"v":0.24,"y":2.2e7,"s":"s1"},{"v":0.29,"y":1.86e7,"s":"s1"},{"v":0.338,"y":1.66e7,"s":"s1"},{"v":0.387,"y":1.38e7,"s":"s1"},{"v":0.435,"y":9.3e6,"s":"s1"},{"v":0.482,"y":4.7e6,"s":"s1"},{"v":0.531,"y":1.32e6,"s":"s1"},{"v":0.58,"y":3.3e5,"s":"s1"},{"v":0.629,"y":5.9e4,"s":"s1"},{"v":0.679,"y":1.48e4,"s":"s1"},{"v":0.727,"y":6.6e3,"s":"s1"},{"v":0.776,"y":741,"s":"s1"},{"v":0.824,"y":275,"s":"s1"},{"v":0.871,"y":166,"s":"s1"},
{"v":0,"y":4.0e7,"s":"s2"},{"v":0.047,"y":4.0e7,"s":"s2"},{"v":0.095,"y":3.5e7,"s":"s2"},{"v":0.145,"y":2.95e7,"s":"s2"},{"v":0.193,"y":2.5e7,"s":"s2"},{"v":0.24,"y":2.1e7,"s":"s2"},{"v":0.29,"y":1.66e7,"s":"s2"},{"v":0.338,"y":1.38e7,"s":"s2"},{"v":0.387,"y":1.05e7,"s":"s2"},{"v":0.435,"y":6.6e6,"s":"s2"},{"v":0.482,"y":2.34e6,"s":"s2"},{"v":0.531,"y":6.3e5,"s":"s2"},{"v":0.58,"y":1.48e5,"s":"s2"},{"v":0.629,"y":1.86e4,"s":"s2"},{"v":0.679,"y":8.3e3,"s":"s2"},{"v":0.727,"y":2.34e3,"s":"s2"},{"v":0.776,"y":550,"s":"s2"},{"v":0.824,"y":166,"s":"s2"},{"v":0.871,"y":83,"s":"s2"},
{"v":0,"y":2.63e7,"s":"s3"},{"v":0.047,"y":2.75e7,"s":"s3"},{"v":0.095,"y":2.63e7,"s":"s3"},{"v":0.145,"y":2.34e7,"s":"s3"},{"v":0.193,"y":2.1e7,"s":"s3"},{"v":0.24,"y":1.74e7,"s":"s3"},{"v":0.29,"y":1.48e7,"s":"s3"},{"v":0.338,"y":1.17e7,"s":"s3"},{"v":0.387,"y":6.9e6,"s":"s3"},{"v":0.435,"y":2.95e6,"s":"s3"},{"v":0.482,"y":8.7e5,"s":"s3"},{"v":0.531,"y":2.34e5,"s":"s3"},{"v":0.58,"y":5.9e4,"s":"s3"},{"v":0.629,"y":1.48e4,"s":"s3"},{"v":0.679,"y":4.7e3,"s":"s3"},{"v":0.727,"y":1.48e3,"s":"s3"},{"v":0.776,"y":525,"s":"s3"},{"v":0.824,"y":234,"s":"s3"},{"v":0.871,"y":117,"s":"s3"},
{"v":0,"y":7.8e6,"s":"s5"},{"v":0.047,"y":8.7e6,"s":"s5"},{"v":0.095,"y":7.9e6,"s":"s5"},{"v":0.145,"y":6.9e6,"s":"s5"},{"v":0.193,"y":6.3e6,"s":"s5"},{"v":0.24,"y":5.2e6,"s":"s5"},{"v":0.29,"y":4.4e6,"s":"s5"},{"v":0.338,"y":3.2e6,"s":"s5"},{"v":0.387,"y":1.48e6,"s":"s5"},{"v":0.435,"y":5.2e5,"s":"s5"},{"v":0.482,"y":1.38e5,"s":"s5"},{"v":0.531,"y":2.6e4,"s":"s5"},{"v":0.58,"y":7.4e3,"s":"s5"},{"v":0.629,"y":2.95e3,"s":"s5"},{"v":0.679,"y":525,"s":"s5"},{"v":0.727,"y":166,"s":"s5"},{"v":0.776,"y":66,"s":"s5"},{"v":0.824,"y":31.6,"s":"s5"},{"v":0.871,"y":15.8,"s":"s5"}
],
"r5R": [
{"v":0,"y":1.77e-6,"s":"s5"},{"v":0.05,"y":1.82e-6,"s":"s5"},{"v":0.1,"y":1.855e-6,"s":"s5"},{"v":0.15,"y":1.93e-6,"s":"s5"},{"v":0.2,"y":1.98e-6,"s":"s5"},{"v":0.25,"y":2.04e-6,"s":"s5"},{"v":0.3,"y":2.1e-6,"s":"s5"},{"v":0.35,"y":2.12e-6,"s":"s5"},{"v":0.4,"y":2.12e-6,"s":"s5"},{"v":0.45,"y":2.16e-6,"s":"s5"},{"v":0.5,"y":2.08e-6,"s":"s5"},{"v":0.6,"y":2.6e-6,"s":"s5"},{"v":0.65,"y":2.81e-6,"s":"s5"},{"v":0.7,"y":8.94e-6,"s":"s5"},{"v":0.75,"y":1.63e-5,"s":"s5"},{"v":0.8,"y":2.7e-5,"s":"s5"},{"v":0.85,"y":3.72e-5,"s":"s5"},{"v":0.9,"y":4.61e-5,"s":"s5"},
{"v":0,"y":1.77e-6,"s":"s3"},{"v":0.05,"y":1.75e-6,"s":"s3"},{"v":0.1,"y":1.77e-6,"s":"s3"},{"v":0.15,"y":1.79e-6,"s":"s3"},{"v":0.2,"y":1.82e-6,"s":"s3"},{"v":0.25,"y":1.875e-6,"s":"s3"},{"v":0.3,"y":1.93e-6,"s":"s3"},{"v":0.35,"y":1.96e-6,"s":"s3"},{"v":0.4,"y":1.96e-6,"s":"s3"},{"v":0.45,"y":1.9e-6,"s":"s3"},{"v":0.5,"y":1.75e-6,"s":"s3"},{"v":0.55,"y":1.72e-6,"s":"s3"},{"v":0.6,"y":2.01e-6,"s":"s3"},{"v":0.65,"y":1.75e-6,"s":"s3"},{"v":0.7,"y":1.57e-6,"s":"s3"},{"v":0.75,"y":3.68e-6,"s":"s3"},{"v":0.8,"y":7.22e-6,"s":"s3"},{"v":0.85,"y":1.34e-5,"s":"s3"},
{"v":0,"y":1.63e-6,"s":"s2"},{"v":0.05,"y":1.63e-6,"s":"s2"},{"v":0.1,"y":1.63e-6,"s":"s2"},{"v":0.15,"y":1.63e-6,"s":"s2"},{"v":0.2,"y":1.63e-6,"s":"s2"},{"v":0.25,"y":1.63e-6,"s":"s2"},{"v":0.3,"y":1.66e-6,"s":"s2"},{"v":0.35,"y":1.7e-6,"s":"s2"},{"v":0.4,"y":1.72e-6,"s":"s2"},{"v":0.45,"y":1.7e-6,"s":"s2"},{"v":0.5,"y":1.63e-6,"s":"s2"},{"v":0.55,"y":1.5e-6,"s":"s2"},{"v":0.6,"y":1.4e-6,"s":"s2"},{"v":0.7,"y":1.25e-6,"s":"s2"},{"v":0.75,"y":2.04e-6,"s":"s2"},{"v":0.8,"y":6.27e-6,"s":"s2"},{"v":0.85,"y":2.04e-5,"s":"s2"},{"v":0.9,"y":2.89e-5,"s":"s2"},
{"v":0,"y":1.46e-6,"s":"s1"},{"v":0.05,"y":1.46e-6,"s":"s1"},{"v":0.1,"y":1.43e-6,"s":"s1"},{"v":0.15,"y":1.42e-6,"s":"s1"},{"v":0.2,"y":1.4e-6,"s":"s1"},{"v":0.25,"y":1.4e-6,"s":"s1"},{"v":0.3,"y":1.42e-6,"s":"s1"},{"v":0.35,"y":1.46e-6,"s":"s1"},{"v":0.4,"y":1.48e-6,"s":"s1"},{"v":0.45,"y":1.5e-6,"s":"s1"},{"v":0.5,"y":1.43e-6,"s":"s1"},{"v":0.55,"y":1.3e-6,"s":"s1"},{"v":0.6,"y":1.18e-6,"s":"s1"},{"v":0.7,"y":1.27e-6,"s":"s1"},{"v":0.8,"y":9.3e-6,"s":"s1"},{"v":0.85,"y":1.98e-5,"s":"s1"}
]
},
"columns": 1,
"spacing": 14,
"concat": [
{
 "hconcat": [
  {"width": 1, "height": 1, "data": {"name": "pad"}, "mark": {"type": "point", "opacity": 0}, "view": {"stroke": null}},
  {"hconcat": [
  {"width": 329, "height": 229, "data": {"name": "r1L"},
   "layer": [
    {"mark": {"type": "point", "shape": "triangle-up", "filled": false, "size": 60, "strokeWidth": 1.2, "opacity": 0.6, "clip": true},
     "encoding": {
      "x": {"field": "v", "type": "quantitative", "scale": {"domain": [-0.03, 0.865], "nice": false, "zero": false}, "axis": {"orient": "bottom", "values": [0,0.2,0.4,0.6,0.8], "format": ".1f", "title": "Potential (V)", "tickSize": -4, "labelPadding": 8, "titlePadding": 8}},
      "y": {"field": "y", "type": "quantitative", "scale": {"type": "log", "domain": [731, 2.07e6], "nice": false}, "axis": {"orient": "left", "values": [800,900,1e3,2e3,3e3,4e3,5e3,6e3,7e3,8e3,9e3,1e4,2e4,3e4,4e4,5e4,6e4,7e4,8e4,9e4,1e5,2e5,3e5,4e5,5e5,6e5,7e5,8e5,9e5,1e6,2e6], "labelExpr": "datum.value==1000?'10³':datum.value==10000?'10⁴':datum.value==100000?'10⁵':datum.value==1000000?'10⁶':''", "labelFontSize": {"condition": {"test": "abs(log(datum.value)/LN10-round(log(datum.value)/LN10))<0.001", "value": 16}, "value": 0}, "title": "Rct (Ohms)", "tickSize": {"condition": {"test": "abs(log(datum.value)/LN10-round(log(datum.value)/LN10))<0.001", "value": -5}, "value": -3}, "labelPadding": 9, "titlePadding": 6, "minExtent": 28, "maxExtent": 28}},
      "color": {"field": "s", "type": "nominal", "scale": {"domain": ["s1","s2","s3","s4","s5","s6","s7","s8","s9"], "range": ["#000000","#a30000","#ffa500","#17951c","#1b8dcc","#1414f0","#c41a9e","#0f62ff","#ff24c8"]}, "legend": null}}},
    {"mark": {"type": "line", "strokeWidth": 2.6, "clip": true},
     "encoding": {
      "x": {"field": "v", "type": "quantitative", "scale": {"domain": [-0.03, 0.865], "nice": false, "zero": false}, "axis": {"orient": "top", "values": [0,0.2,0.4,0.6,0.8], "labels": false, "title": null, "tickSize": -4}},
      "y": {"field": "y", "type": "quantitative", "scale": {"type": "log", "domain": [731, 2.07e6], "nice": false}, "axis": {"orient": "right", "values": [800,900,1e3,2e3,3e3,4e3,5e3,6e3,7e3,8e3,9e3,1e4,2e4,3e4,4e4,5e4,6e4,7e4,8e4,9e4,1e5,2e5,3e5,4e5,5e5,6e5,7e5,8e5,9e5,1e6,2e6], "labels": false, "title": null, "tickSize": {"condition": {"test": "abs(log(datum.value)/LN10-round(log(datum.value)/LN10))<0.001", "value": -5}, "value": -3}}},
      "color": {"field": "s", "type": "nominal", "scale": {"domain": ["s1","s2","s3","s4","s5","s6","s7","s8","s9"], "range": ["#000000","#a30000","#ffa500","#17951c","#1b8dcc","#1414f0","#c41a9e","#0f62ff","#ff24c8"]}, "legend": null}}}
   ],
   "resolve": {"axis": {"x": "independent", "y": "independent"}}},
  {"width": 325, "height": 220, "data": {"name": "r1R"},
   "layer": [
    {"mark": {"type": "point", "shape": "triangle-up", "filled": false, "size": 60, "strokeWidth": 1.2, "opacity": 0.6, "clip": true},
     "encoding": {
      "x": {"field": "v", "type": "quantitative", "scale": {"domain": [-0.016, 0.8645], "nice": false, "zero": false}, "axis": {"orient": "bottom", "values": [0,0.2,0.4,0.6,0.8], "format": ".1f", "title": "Potential (V)", "tickSize": -4, "labelPadding": 8, "titlePadding": 8}},
      "y": {"field": "y", "type": "quantitative", "scale": {"type": "log", "domain": [8.65e-7, 2.48e-6], "nice": false}, "axis": {"orient": "left", "values": [9e-7,1e-6,2e-6], "labelExpr": "datum.value==1e-6?'10⁻⁶':format(datum.value/pow(10,floor(log(datum.value)/LN10+1e-9)),'.0f')", "labelFontSize": {"condition": {"test": "datum.value==1e-6", "value": 16}, "value": 11}, "title": "Capacitance (F)", "tickSize": -4, "labelPadding": 6, "titlePadding": 6, "minExtent": 30, "maxExtent": 30}},
      "color": {"field": "s", "type": "nominal", "scale": {"domain": ["s1","s2","s3","s4","s5","s6","s7","s8","s9"], "range": ["#000000","#a30000","#ffa500","#17951c","#1b8dcc","#1414f0","#c41a9e","#0f62ff","#ff24c8"]}, "legend": null}}},
    {"mark": {"type": "line", "strokeWidth": 2.6, "clip": true},
     "encoding": {
      "x": {"field": "v", "type": "quantitative", "scale": {"domain": [-0.016, 0.8645], "nice": false, "zero": false}, "axis": {"orient": "top", "values": [0,0.2,0.4,0.6,0.8], "labels": false, "title": null, "tickSize": -4}},
      "y": {"field": "y", "type": "quantitative", "scale": {"type": "log", "domain": [8.65e-7, 2.48e-6], "nice": false}, "axis": {"orient": "right", "values": [9e-7,1e-6,2e-6], "labels": false, "title": null, "tickSize": -4}},
      "color": {"field": "s", "type": "nominal", "scale": {"domain": ["s1","s2","s3","s4","s5","s6","s7","s8","s9"], "range": ["#000000","#a30000","#ffa500","#17951c","#1b8dcc","#1414f0","#c41a9e","#0f62ff","#ff24c8"]}, "legend": null}}}
   ],
   "resolve": {"axis": {"x": "independent", "y": "independent"}}}
  ],
  "spacing": 95, "bounds": "flush"}
 ],
 "spacing": 0,
 "title": {"text": "Flat TiO₂ with doped spiro-MeOTAD", "orient": "bottom", "anchor": "middle", "frame": "bounds", "offset": 12, "dx": 27}
},
{
 "hconcat": [
  {"width": 1, "height": 1, "data": {"name": "pad"}, "mark": {"type": "point", "opacity": 0}, "view": {"stroke": null}},
  {"hconcat": [
  {"width": 323, "height": 228, "data": {"name": "r2L"},
   "layer": [
    {"mark": {"type": "line", "strokeWidth": 2.6, "strokeDash": [0.1, 3.4], "strokeCap": "round", "clip": true},
     "encoding": {
      "x": {"field": "v", "type": "quantitative", "scale": {"domain": [-0.014, 0.904], "nice": false, "zero": false}, "axis": {"orient": "bottom", "values": [0,0.2,0.4,0.6,0.8], "format": ".1f", "title": "Potential (V)", "tickSize": -4, "labelPadding": 8, "titlePadding": 8}},
      "y": {"field": "y", "type": "quantitative", "scale": {"type": "log", "domain": [88.7, 2.45e6], "nice": false}, "axis": {"orient": "left", "values": [200,300,400,500,600,700,800,900,1e3,2e3,3e3,4e3,5e3,6e3,7e3,8e3,9e3,1e4,2e4,3e4,4e4,5e4,6e4,7e4,8e4,9e4,1e5,2e5,3e5,4e5,5e5,6e5,7e5,8e5,9e5,1e6,2e6], "labelExpr": "datum.value==1000?'10³':datum.value==10000?'10⁴':datum.value==100000?'10⁵':datum.value==1000000?'10⁶':''", "labelFontSize": {"condition": {"test": "abs(log(datum.value)/LN10-round(log(datum.value)/LN10))<0.001", "value": 16}, "value": 0}, "title": "Rct (Ohms)", "tickSize": {"condition": {"test": "abs(log(datum.value)/LN10-round(log(datum.value)/LN10))<0.001", "value": -5}, "value": -3}, "labelPadding": 9, "titlePadding": 6, "minExtent": 33, "maxExtent": 33}},
      "color": {"field": "s", "type": "nominal", "scale": {"domain": ["s1","s2","s3","s4","s5","s6","s7","s8","s9"], "range": ["#000000","#a30000","#ffa500","#17951c","#1b8dcc","#1414f0","#c41a9e","#0f62ff","#ff24c8"]}, "legend": null}}},
    {"mark": {"type": "point", "shape": "square", "filled": true, "size": 55, "opacity": 1, "clip": true},
     "encoding": {
      "x": {"field": "v", "type": "quantitative", "scale": {"domain": [-0.014, 0.904], "nice": false, "zero": false}, "axis": {"orient": "top", "values": [0,0.2,0.4,0.6,0.8], "labels": false, "title": null, "tickSize": -4}},
      "y": {"field": "y", "type": "quantitative", "scale": {"type": "log", "domain": [88.7, 2.45e6], "nice": false}, "axis": {"orient": "right", "values": [200,300,400,500,600,700,800,900,1e3,2e3,3e3,4e3,5e3,6e3,7e3,8e3,9e3,1e4,2e4,3e4,4e4,5e4,6e4,7e4,8e4,9e4,1e5,2e5,3e5,4e5,5e5,6e5,7e5,8e5,9e5,1e6,2e6], "labels": false, "title": null, "tickSize": {"condition": {"test": "abs(log(datum.value)/LN10-round(log(datum.value)/LN10))<0.001", "value": -5}, "value": -3}}},
      "color": {"field": "s", "type": "nominal", "scale": {"domain": ["s1","s2","s3","s4","s5","s6","s7","s8","s9"], "range": ["#000000","#a30000","#ffa500","#17951c","#1b8dcc","#1414f0","#c41a9e","#0f62ff","#ff24c8"]}, "legend": null}}}
   ],
   "resolve": {"axis": {"x": "independent", "y": "independent"}}},
  {"width": 317, "height": 228, "data": {"name": "r2R"},
   "layer": [
    {"mark": {"type": "line", "strokeWidth": 2.6, "strokeDash": [0.1, 3.4], "strokeCap": "round", "clip": true},
     "encoding": {
      "x": {"field": "v", "type": "quantitative", "scale": {"domain": [-0.018, 0.904], "nice": false, "zero": false}, "axis": {"orient": "bottom", "values": [0,0.2,0.4,0.6,0.8], "format": ".1f", "title": "Potential (V)", "tickSize": -4, "labelPadding": 8, "titlePadding": 8}},
      "y": {"field": "y", "type": "quantitative", "scale": {"type": "log", "domain": [1.79e-7, 2.11e-6], "nice": false}, "axis": {"orient": "left", "values": [2e-7,3e-7,4e-7,5e-7,6e-7,7e-7,8e-7,9e-7,1e-6,2e-6], "labelExpr": "datum.value==1e-6?'10⁻⁶':format(datum.value/pow(10,floor(log(datum.value)/LN10+1e-9)),'.0f')", "labelFontSize": {"condition": {"test": "datum.value==1e-6", "value": 16}, "value": 11}, "labelOffset": {"condition": {"test": "datum.value==1e-6", "value": -3}, "value": 1}, "title": "Capacitance (F)", "tickSize": -4, "labelPadding": 6, "titlePadding": 6, "minExtent": 38, "maxExtent": 38}},
      "color": {"field": "s", "type": "nominal", "scale": {"domain": ["s1","s2","s3","s4","s5","s6","s7","s8","s9"], "range": ["#000000","#a30000","#ffa500","#17951c","#1b8dcc","#1414f0","#c41a9e","#0f62ff","#ff24c8"]}, "legend": null}}},
    {"mark": {"type": "point", "shape": "square", "filled": true, "size": 55, "opacity": 1, "clip": true},
     "encoding": {
      "x": {"field": "v", "type": "quantitative", "scale": {"domain": [-0.018, 0.904], "nice": false, "zero": false}, "axis": {"orient": "top", "values": [0,0.2,0.4,0.6,0.8], "labels": false, "title": null, "tickSize": -4}},
      "y": {"field": "y", "type": "quantitative", "scale": {"type": "log", "domain": [1.79e-7, 2.11e-6], "nice": false}, "axis": {"orient": "right", "values": [2e-7,3e-7,4e-7,5e-7,6e-7,7e-7,8e-7,9e-7,1e-6,2e-6], "labels": false, "title": null, "tickSize": -4}},
      "color": {"field": "s", "type": "nominal", "scale": {"domain": ["s1","s2","s3","s4","s5","s6","s7","s8","s9"], "range": ["#000000","#a30000","#ffa500","#17951c","#1b8dcc","#1414f0","#c41a9e","#0f62ff","#ff24c8"]}, "legend": null}}}
   ],
   "resolve": {"axis": {"x": "independent", "y": "independent"}}}
  ],
  "spacing": 104, "bounds": "flush"}
 ],
 "spacing": 0,
 "title": {"text": "Mesoporous ZrO₂ with undoped spiro-MeOTAD", "orient": "bottom", "anchor": "middle", "frame": "bounds", "offset": 12, "dx": 27}
},
{
 "hconcat": [
  {"width": 1, "height": 1, "data": {"name": "pad"}, "mark": {"type": "point", "opacity": 0}, "view": {"stroke": null}},
  {"hconcat": [
  {"width": 305, "height": 228, "data": {"name": "r3L"},
   "layer": [
    {"mark": {"type": "point", "shape": "square", "filled": false, "size": 52, "strokeWidth": 1.2, "opacity": 0.6, "clip": true},
     "encoding": {
      "x": {"field": "v", "type": "quantitative", "scale": {"domain": [-0.017, 0.918], "nice": false, "zero": false}, "axis": {"orient": "bottom", "values": [0,0.2,0.4,0.6,0.8], "format": ".1f", "title": "Potential (V)", "tickSize": -4, "labelPadding": 8, "titlePadding": 8}},
      "y": {"field": "y", "type": "quantitative", "scale": {"type": "log", "domain": [25.4, 1.74e7], "nice": false}, "axis": {"orient": "left", "values": [30,40,50,60,70,80,90,100,200,300,400,500,600,700,800,900,1e3,2e3,3e3,4e3,5e3,6e3,7e3,8e3,9e3,1e4,2e4,3e4,4e4,5e4,6e4,7e4,8e4,9e4,1e5,2e5,3e5,4e5,5e5,6e5,7e5,8e5,9e5,1e6,2e6,3e6,4e6,5e6,6e6,7e6,8e6,9e6,1e7], "labelExpr": "datum.value==100?'10²':datum.value==1000?'10³':datum.value==10000?'10⁴':datum.value==100000?'10⁵':datum.value==1000000?'10⁶':datum.value==10000000?'10⁷':''", "labelFontSize": {"condition": {"test": "abs(log(datum.value)/LN10-round(log(datum.value)/LN10))<0.001", "value": 16}, "value": 0}, "title": "Rct (Ohms)", "tickSize": {"condition": {"test": "abs(log(datum.value)/LN10-round(log(datum.value)/LN10))<0.001", "value": -5}, "value": -3}, "labelPadding": 9, "titlePadding": 6, "minExtent": 51, "maxExtent": 51}},
      "color": {"field": "s", "type": "nominal", "scale": {"domain": ["s1","s2","s3","s4","s5","s6","s7","s8","s9"], "range": ["#000000","#a30000","#ffa500","#17951c","#1b8dcc","#1414f0","#c41a9e","#0f62ff","#ff24c8"]}, "legend": null}}},
    {"mark": {"type": "line", "strokeWidth": 2.4, "interpolate": "monotone", "clip": true},
     "encoding": {
      "x": {"field": "v", "type": "quantitative", "scale": {"domain": [-0.017, 0.918], "nice": false, "zero": false}, "axis": {"orient": "top", "values": [0,0.2,0.4,0.6,0.8], "labels": false, "title": null, "tickSize": -4}},
      "y": {"field": "y", "type": "quantitative", "scale": {"type": "log", "domain": [25.4, 1.74e7], "nice": false}, "axis": {"orient": "right", "values": [30,40,50,60,70,80,90,100,200,300,400,500,600,700,800,900,1e3,2e3,3e3,4e3,5e3,6e3,7e3,8e3,9e3,1e4,2e4,3e4,4e4,5e4,6e4,7e4,8e4,9e4,1e5,2e5,3e5,4e5,5e5,6e5,7e5,8e5,9e5,1e6,2e6,3e6,4e6,5e6,6e6,7e6,8e6,9e6,1e7], "labels": false, "title": null, "tickSize": {"condition": {"test": "abs(log(datum.value)/LN10-round(log(datum.value)/LN10))<0.001", "value": -5}, "value": -3}}},
      "color": {"field": "s", "type": "nominal", "scale": {"domain": ["s1","s2","s3","s4","s5","s6","s7","s8","s9"], "range": ["#000000","#a30000","#ffa500","#17951c","#1b8dcc","#1414f0","#c41a9e","#0f62ff","#ff24c8"]}, "legend": null}}}
   ],
   "resolve": {"axis": {"x": "independent", "y": "independent"}}},
  {"width": 305, "height": 228, "data": {"name": "r3R"},
   "layer": [
    {"mark": {"type": "point", "shape": "square", "filled": false, "size": 52, "strokeWidth": 1.2, "opacity": 0.6, "clip": true},
     "encoding": {
      "x": {"field": "v", "type": "quantitative", "scale": {"domain": [-0.018, 0.906], "nice": false, "zero": false}, "axis": {"orient": "bottom", "values": [0,0.2,0.4,0.6,0.8], "format": ".1f", "title": "Potential (V)", "tickSize": -4, "labelPadding": 8, "titlePadding": 8}},
      "y": {"field": "y", "type": "quantitative", "scale": {"type": "log", "domain": [7.84e-7, 3.48e-6], "nice": false}, "axis": {"orient": "left", "values": [8e-7,9e-7,1e-6,2e-6,3e-6], "labelExpr": "datum.value==8e-7?'':datum.value==1e-6?'10⁻⁶':format(datum.value/pow(10,floor(log(datum.value)/LN10+1e-9)),'.0f')", "labelFontSize": {"condition": {"test": "datum.value==1e-6", "value": 16}, "value": 11}, "title": "Capacitance (F)", "tickSize": -4, "labelPadding": 6, "titlePadding": 6, "minExtent": 50, "maxExtent": 50}},
      "color": {"field": "s", "type": "nominal", "scale": {"domain": ["s1","s2","s3","s4","s5","s6","s7","s8","s9"], "range": ["#000000","#a30000","#ffa500","#17951c","#1b8dcc","#1414f0","#c41a9e","#0f62ff","#ff24c8"]}, "legend": null}}},
    {"mark": {"type": "line", "strokeWidth": 2.4, "interpolate": "monotone", "clip": true},
     "encoding": {
      "x": {"field": "v", "type": "quantitative", "scale": {"domain": [-0.018, 0.906], "nice": false, "zero": false}, "axis": {"orient": "top", "values": [0,0.2,0.4,0.6,0.8], "labels": false, "title": null, "tickSize": -4}},
      "y": {"field": "y", "type": "quantitative", "scale": {"type": "log", "domain": [7.84e-7, 3.48e-6], "nice": false}, "axis": {"orient": "right", "values": [8e-7,9e-7,1e-6,2e-6,3e-6], "labels": false, "title": null, "tickSize": -4}},
      "color": {"field": "s", "type": "nominal", "scale": {"domain": ["s1","s2","s3","s4","s5","s6","s7","s8","s9"], "range": ["#000000","#a30000","#ffa500","#17951c","#1b8dcc","#1414f0","#c41a9e","#0f62ff","#ff24c8"]}, "legend": null}}}
   ],
   "resolve": {"axis": {"x": "independent", "y": "independent"}}}
  ],
  "spacing": 116, "bounds": "flush"}
 ],
 "spacing": 0,
 "title": {"text": "Mesoporous ZrO₂ with doped spiro-MeOTAD", "orient": "bottom", "anchor": "middle", "frame": "bounds", "offset": 12, "dx": 27}
},
{
 "hconcat": [
  {"width": 1, "height": 1, "data": {"name": "pad"}, "mark": {"type": "point", "opacity": 0}, "view": {"stroke": null}},
  {"hconcat": [
  {"width": 327, "height": 228, "data": {"name": "r4L"},
   "layer": [
    {"mark": {"type": "line", "strokeWidth": 2.6, "strokeDash": [0.1, 3.4], "strokeCap": "round", "clip": true},
     "encoding": {
      "x": {"field": "v", "type": "quantitative", "scale": {"domain": [-0.017, 0.914], "nice": false, "zero": false}, "axis": {"orient": "bottom", "values": [0,0.2,0.4,0.6,0.8], "format": ".1f", "title": "Potential (V)", "tickSize": -4, "labelPadding": 8, "titlePadding": 8}},
      "y": {"field": "y", "type": "quantitative", "scale": {"type": "log", "domain": [22.8, 6.76e7], "nice": false}, "axis": {"orient": "left", "values": [30,40,50,60,70,80,90,100,200,300,400,500,600,700,800,900,1e3,2e3,3e3,4e3,5e3,6e3,7e3,8e3,9e3,1e4,2e4,3e4,4e4,5e4,6e4,7e4,8e4,9e4,1e5,2e5,3e5,4e5,5e5,6e5,7e5,8e5,9e5,1e6,2e6,3e6,4e6,5e6,6e6,7e6,8e6,9e6,1e7,2e7,3e7,4e7,5e7,6e7], "labelExpr": "datum.value==100?'10²':datum.value==1000?'10³':datum.value==10000?'10⁴':datum.value==100000?'10⁵':datum.value==1000000?'10⁶':datum.value==10000000?'10⁷':''", "labelFontSize": {"condition": {"test": "abs(log(datum.value)/LN10-round(log(datum.value)/LN10))<0.001", "value": 16}, "value": 0}, "title": "Rct (Ohms)", "tickSize": {"condition": {"test": "abs(log(datum.value)/LN10-round(log(datum.value)/LN10))<0.001", "value": -5}, "value": -3}, "labelPadding": 9, "titlePadding": 6, "minExtent": 29, "maxExtent": 29}},
      "color": {"field": "s", "type": "nominal", "scale": {"domain": ["s1","s2","s3","s4","s5","s6","s7","s8","s9"], "range": ["#000000","#a30000","#ffa500","#17951c","#1b8dcc","#1414f0","#c41a9e","#0f62ff","#ff24c8"]}, "legend": null}}},
    {"mark": {"type": "point", "shape": "circle", "filled": true, "size": 48, "opacity": 1, "clip": true},
     "encoding": {
      "x": {"field": "v", "type": "quantitative", "scale": {"domain": [-0.017, 0.914], "nice": false, "zero": false}, "axis": {"orient": "top", "values": [0,0.2,0.4,0.6,0.8], "labels": false, "title": null, "tickSize": -4}},
      "y": {"field": "y", "type": "quantitative", "scale": {"type": "log", "domain": [22.8, 6.76e7], "nice": false}, "axis": {"orient": "right", "values": [30,40,50,60,70,80,90,100,200,300,400,500,600,700,800,900,1e3,2e3,3e3,4e3,5e3,6e3,7e3,8e3,9e3,1e4,2e4,3e4,4e4,5e4,6e4,7e4,8e4,9e4,1e5,2e5,3e5,4e5,5e5,6e5,7e5,8e5,9e5,1e6,2e6,3e6,4e6,5e6,6e6,7e6,8e6,9e6,1e7,2e7,3e7,4e7,5e7,6e7], "labels": false, "title": null, "tickSize": {"condition": {"test": "abs(log(datum.value)/LN10-round(log(datum.value)/LN10))<0.001", "value": -5}, "value": -3}}},
      "color": {"field": "s", "type": "nominal", "scale": {"domain": ["s1","s2","s3","s4","s5","s6","s7","s8","s9"], "range": ["#000000","#a30000","#ffa500","#17951c","#1b8dcc","#1414f0","#c41a9e","#0f62ff","#ff24c8"]}, "legend": null}}}
   ],
   "resolve": {"axis": {"x": "independent", "y": "independent"}}},
  {"width": 320, "height": 228, "data": {"name": "r4R"},
   "layer": [
    {"mark": {"type": "line", "strokeWidth": 2.6, "strokeDash": [0.1, 3.4], "strokeCap": "round", "clip": true},
     "encoding": {
      "x": {"field": "v", "type": "quantitative", "scale": {"domain": [-0.014, 0.905], "nice": false, "zero": false}, "axis": {"orient": "bottom", "values": [0,0.2,0.4,0.6,0.8], "format": ".1f", "title": "Potential (V)", "tickSize": -4, "labelPadding": 8, "titlePadding": 8}},
      "y": {"field": "y", "type": "quantitative", "scale": {"type": "log", "domain": [1.53e-6, 2.3e-5], "nice": false}, "axis": {"orient": "left", "values": [2e-6,3e-6,4e-6,5e-6,6e-6,7e-6,8e-6,9e-6,1e-5,2e-5], "labelExpr": "datum.value==9e-6?'':datum.value==1e-5?'10⁻⁵':format(datum.value/pow(10,floor(log(datum.value)/LN10+1e-9)),'.0f')", "labelFontSize": {"condition": {"test": "datum.value==1e-5", "value": 16}, "value": 11}, "title": "Capacitance (F)", "tickSize": -4, "labelPadding": 6, "titlePadding": 6, "minExtent": 35, "maxExtent": 35}},
      "color": {"field": "s", "type": "nominal", "scale": {"domain": ["s1","s2","s3","s4","s5","s6","s7","s8","s9"], "range": ["#000000","#a30000","#ffa500","#17951c","#1b8dcc","#1414f0","#c41a9e","#0f62ff","#ff24c8"]}, "legend": null}}},
    {"mark": {"type": "point", "shape": "circle", "filled": true, "size": 48, "opacity": 1, "clip": true},
     "encoding": {
      "x": {"field": "v", "type": "quantitative", "scale": {"domain": [-0.014, 0.905], "nice": false, "zero": false}, "axis": {"orient": "top", "values": [0,0.2,0.4,0.6,0.8], "labels": false, "title": null, "tickSize": -4}},
      "y": {"field": "y", "type": "quantitative", "scale": {"type": "log", "domain": [1.53e-6, 2.3e-5], "nice": false}, "axis": {"orient": "right", "values": [2e-6,3e-6,4e-6,5e-6,6e-6,7e-6,8e-6,9e-6,1e-5,2e-5], "labels": false, "title": null, "tickSize": -4}},
      "color": {"field": "s", "type": "nominal", "scale": {"domain": ["s1","s2","s3","s4","s5","s6","s7","s8","s9"], "range": ["#000000","#a30000","#ffa500","#17951c","#1b8dcc","#1414f0","#c41a9e","#0f62ff","#ff24c8"]}, "legend": null}}}
   ],
   "resolve": {"axis": {"x": "independent", "y": "independent"}}}
  ],
  "spacing": 101, "bounds": "flush"}
 ],
 "spacing": 0,
 "title": {"text": "Mesoporous TiO₂ with undoped spiro-MeOTAD", "orient": "bottom", "anchor": "middle", "frame": "bounds", "offset": 12, "dx": 27}
},
{
 "hconcat": [
  {"width": 1, "height": 1, "data": {"name": "pad"}, "mark": {"type": "point", "opacity": 0}, "view": {"stroke": null}},
  {"hconcat": [
  {"width": 318, "height": 228, "data": {"name": "r5L"},
   "layer": [
    {"mark": {"type": "point", "shape": "circle", "filled": false, "size": 45, "strokeWidth": 1.2, "opacity": 0.6, "clip": true},
     "encoding": {
      "x": {"field": "v", "type": "quantitative", "scale": {"domain": [-0.02, 0.885], "nice": false, "zero": false}, "axis": {"orient": "bottom", "values": [0,0.2,0.4,0.6,0.8], "format": ".1f", "title": "Potential (V)", "tickSize": -4, "labelPadding": 8, "titlePadding": 8}},
      "y": {"field": "y", "type": "quantitative", "scale": {"type": "log", "domain": [11, 7.8e7], "nice": false}, "axis": {"orient": "left", "values": [20,30,40,50,60,70,80,90,100,200,300,400,500,600,700,800,900,1e3,2e3,3e3,4e3,5e3,6e3,7e3,8e3,9e3,1e4,2e4,3e4,4e4,5e4,6e4,7e4,8e4,9e4,1e5,2e5,3e5,4e5,5e5,6e5,7e5,8e5,9e5,1e6,2e6,3e6,4e6,5e6,6e6,7e6,8e6,9e6,1e7,2e7,3e7,4e7,5e7,6e7,7e7], "labelExpr": "datum.value==100?'10²':datum.value==1000?'10³':datum.value==10000?'10⁴':datum.value==100000?'10⁵':datum.value==1000000?'10⁶':datum.value==10000000?'10⁷':''", "labelFontSize": {"condition": {"test": "abs(log(datum.value)/LN10-round(log(datum.value)/LN10))<0.001", "value": 16}, "value": 0}, "title": "Rct (Ohms)", "tickSize": {"condition": {"test": "abs(log(datum.value)/LN10-round(log(datum.value)/LN10))<0.001", "value": -5}, "value": -3}, "labelPadding": 9, "titlePadding": 6, "minExtent": 38, "maxExtent": 38}},
      "color": {"field": "s", "type": "nominal", "scale": {"domain": ["s1","s2","s3","s4","s5","s6","s7","s8","s9"], "range": ["#000000","#a30000","#ffa500","#17951c","#1b8dcc","#1414f0","#c41a9e","#0f62ff","#ff24c8"]}, "legend": null}}},
    {"mark": {"type": "line", "strokeWidth": 2.4, "interpolate": "monotone", "clip": true},
     "encoding": {
      "x": {"field": "v", "type": "quantitative", "scale": {"domain": [-0.02, 0.885], "nice": false, "zero": false}, "axis": {"orient": "top", "values": [0,0.2,0.4,0.6,0.8], "labels": false, "title": null, "tickSize": -4}},
      "y": {"field": "y", "type": "quantitative", "scale": {"type": "log", "domain": [11, 7.8e7], "nice": false}, "axis": {"orient": "right", "values": [20,30,40,50,60,70,80,90,100,200,300,400,500,600,700,800,900,1e3,2e3,3e3,4e3,5e3,6e3,7e3,8e3,9e3,1e4,2e4,3e4,4e4,5e4,6e4,7e4,8e4,9e4,1e5,2e5,3e5,4e5,5e5,6e5,7e5,8e5,9e5,1e6,2e6,3e6,4e6,5e6,6e6,7e6,8e6,9e6,1e7,2e7,3e7,4e7,5e7,6e7,7e7], "labels": false, "title": null, "tickSize": {"condition": {"test": "abs(log(datum.value)/LN10-round(log(datum.value)/LN10))<0.001", "value": -5}, "value": -3}}},
      "color": {"field": "s", "type": "nominal", "scale": {"domain": ["s1","s2","s3","s4","s5","s6","s7","s8","s9"], "range": ["#000000","#a30000","#ffa500","#17951c","#1b8dcc","#1414f0","#c41a9e","#0f62ff","#ff24c8"]}, "legend": null}}}
   ],
   "resolve": {"axis": {"x": "independent", "y": "independent"}}},
  {"width": 322, "height": 228, "data": {"name": "r5R"},
   "layer": [
    {"mark": {"type": "point", "shape": "circle", "filled": false, "size": 45, "strokeWidth": 1.2, "opacity": 0.6, "clip": true},
     "encoding": {
      "x": {"field": "v", "type": "quantitative", "scale": {"domain": [-0.015, 0.905], "nice": false, "zero": false}, "axis": {"orient": "bottom", "values": [0,0.2,0.4,0.6,0.8], "format": ".1f", "title": "Potential (V)", "tickSize": -4, "labelPadding": 8, "titlePadding": 8}},
      "y": {"field": "y", "type": "quantitative", "scale": {"type": "log", "domain": [1.08e-6, 5.07e-5], "nice": false}, "axis": {"orient": "left", "values": [2e-6,3e-6,4e-6,5e-6,6e-6,7e-6,8e-6,9e-6,1e-5,2e-5,3e-5,4e-5], "labelExpr": "(datum.value>6.5e-6&&datum.value<9.5e-6)?'':datum.value==1e-5?'10⁻⁵':format(datum.value/pow(10,floor(log(datum.value)/LN10+1e-9)),'.0f')", "labelFontSize": {"condition": {"test": "datum.value==1e-5", "value": 16}, "value": 11}, "title": "Capacitance (F)", "tickSize": -4, "labelPadding": 6, "titlePadding": 6, "minExtent": 33, "maxExtent": 33}},
      "color": {"field": "s", "type": "nominal", "scale": {"domain": ["s1","s2","s3","s4","s5","s6","s7","s8","s9"], "range": ["#000000","#a30000","#ffa500","#17951c","#1b8dcc","#1414f0","#c41a9e","#0f62ff","#ff24c8"]}, "legend": null}}},
    {"mark": {"type": "line", "strokeWidth": 2.4, "interpolate": "monotone", "clip": true},
     "encoding": {
      "x": {"field": "v", "type": "quantitative", "scale": {"domain": [-0.015, 0.905], "nice": false, "zero": false}, "axis": {"orient": "top", "values": [0,0.2,0.4,0.6,0.8], "labels": false, "title": null, "tickSize": -4}},
      "y": {"field": "y", "type": "quantitative", "scale": {"type": "log", "domain": [1.08e-6, 5.07e-5], "nice": false}, "axis": {"orient": "right", "values": [2e-6,3e-6,4e-6,5e-6,6e-6,7e-6,8e-6,9e-6,1e-5,2e-5,3e-5,4e-5], "labels": false, "title": null, "tickSize": -4}},
      "color": {"field": "s", "type": "nominal", "scale": {"domain": ["s1","s2","s3","s4","s5","s6","s7","s8","s9"], "range": ["#000000","#a30000","#ffa500","#17951c","#1b8dcc","#1414f0","#c41a9e","#0f62ff","#ff24c8"]}, "legend": null}}}
   ],
   "resolve": {"axis": {"x": "independent", "y": "independent"}}}
  ],
  "spacing": 99, "bounds": "flush"}
 ],
 "spacing": 0,
 "title": {"text": "Mesoporous TiO₂ with doped spiro-MeOTAD", "orient": "bottom", "anchor": "middle", "frame": "bounds", "offset": 12, "dx": 27}
}
]
}
